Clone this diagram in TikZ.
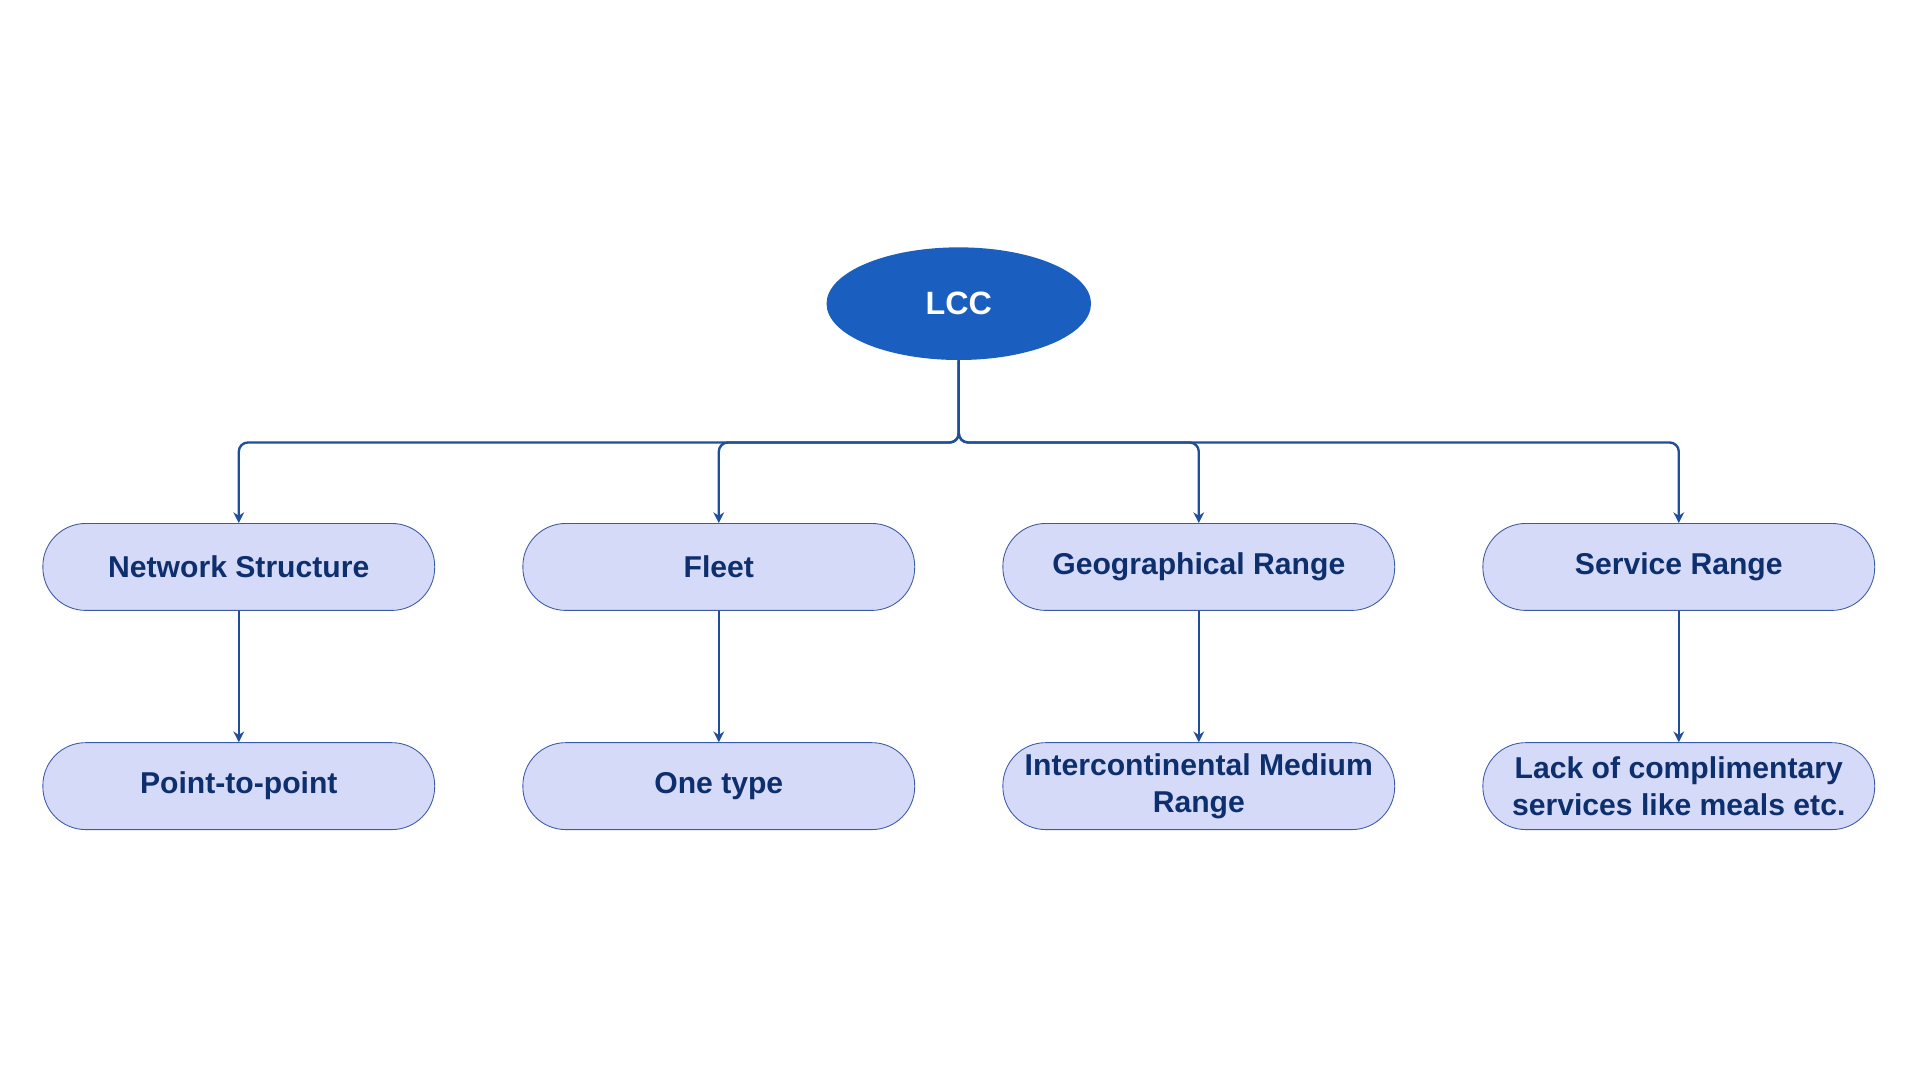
\documentclass[tikz,border=0pt]{standalone}
\usepackage{fontspec}
\setmainfont{Liberation Sans}
\usetikzlibrary{arrows.meta,shapes.geometric}
\definecolor{lccblue}{HTML}{1A5FBF}
\definecolor{boxfill}{HTML}{D6DAF9}
\definecolor{boxline}{HTML}{3A5AA8}
\definecolor{txtblue}{HTML}{0D2F6E}
\definecolor{linkblue}{HTML}{1F4E9A}
\tikzset{
  pill/.style={rectangle,rounded corners=0.7cm,draw=boxline,fill=boxfill,minimum width=6.4cm,minimum height=1.42cm,align=center,text=txtblue,font=\bfseries\fontsize{14}{17}\selectfont},
  link/.style={draw=linkblue,line width=1.1pt,rounded corners=0.15cm,-{Stealth[length=5pt,width=5pt]}}
}
\begin{document}
\begin{tikzpicture}
    \useasboundingbox (0,0) rectangle (31.36,-17.64);
    % root
    \node (lcc) at (15.66,-4.96) [ellipse,fill=lccblue,minimum width=4.32cm,minimum height=1.84cm,text=white,font=\bfseries\fontsize{15}{18}\selectfont] {LCC};

    % first row
    \node (net) at (3.9,-9.26) [pill] {Network Structure};
    \node (fleet) at (11.74,-9.26) [pill] {Fleet};
    \node (geo) at (19.58,-9.26) [pill] {Geographical Range};
    \node (serv) at (27.42,-9.26) [pill] {Service Range};

    % second row
    \node (ptp) at (3.9,-12.84) [pill] {Point-to-point};
    \node (onetype) at (11.74,-12.84) [pill] {One type};
    \node (medium) at (19.58,-12.84) [pill] {Intercontinental Medium\\Range};
    \node (meals) at (27.42,-12.84) [pill] {Lack of complimentary\\services like meals etc.};

    % paths
    \foreach \n in {net,fleet,geo,serv}
        \draw[link] (lcc.south) -- ++(0,-1.34) -| (\n.north);
    \draw[link] (net) -- (ptp);
    \draw[link] (fleet) -- (onetype);
    \draw[link] (geo) -- (medium);
    \draw[link] (serv) -- (meals);
\end{tikzpicture}
\end{document}
